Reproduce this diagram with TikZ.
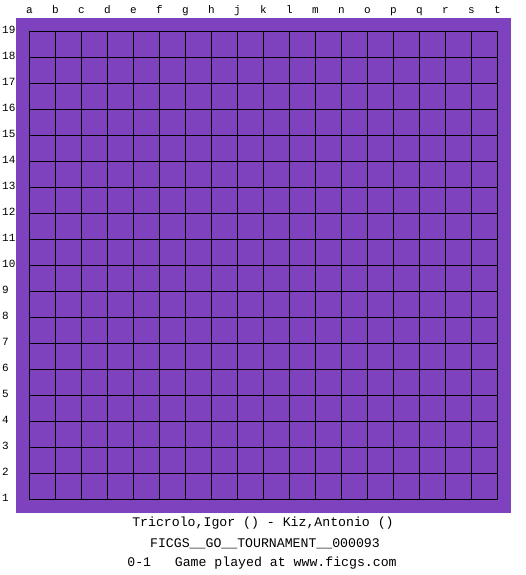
\documentclass[tikz,border=0pt]{standalone}
\usepackage{fontspec}
\setmonofont{Liberation Mono}
\usetikzlibrary{positioning}
\definecolor{boardpurple}{RGB}{127,66,190}
\tikzset{
    board/.style={
            fill=boardpurple,
            draw=none
        },
    gridline/.style={
            line width=1pt,
            draw=black
        },
    coordlabel/.style={
            font=\ttfamily\fontsize{11}{11}\selectfont,
            inner sep=0pt
        },
    caption/.style={
            font=\ttfamily\fontsize{13.2}{14}\selectfont,
            inner sep=0pt
        }
}
\begin{document}
\begin{tikzpicture}[x=1pt,y=-1pt]
  \useasboundingbox (0,0) rectangle (525,575);
  \fill[white] (0,0) rectangle (525,575);
  \path[board] (16,18) rectangle (511,513);
  \foreach \i in {0,...,18} {
    \draw[gridline] (29.5+26*\i,31.5) -- (29.5+26*\i,499.5);
    \draw[gridline] (29.5,31.5+26*\i) -- (497.5,31.5+26*\i);
  }
  \foreach \l [count=\i from 0] in {a,b,c,d,e,f,g,h,j,k,l,m,n,o,p,q,r,s,t}
    \node[coordlabel,anchor=base] (col-\l) at (29.5+26*\i,14) {\l};
  \foreach \n in {1,...,19}
    \node[coordlabel,anchor=base west] (row-\n) at (2,33.5+26*19-26*\n) {\n};
  \node[caption] (players) at (263,523) {Tricrolo,Igor () - Kiz,Antonio ()};
  \node[caption] (event) at (265,544) {FICGS\_\_GO\_\_TOURNAMENT\_\_000093};
  \node[caption] (result) at (262,563) {0-1\ \ \ Game played at www.ficgs.com};
\end{tikzpicture}
\end{document}
